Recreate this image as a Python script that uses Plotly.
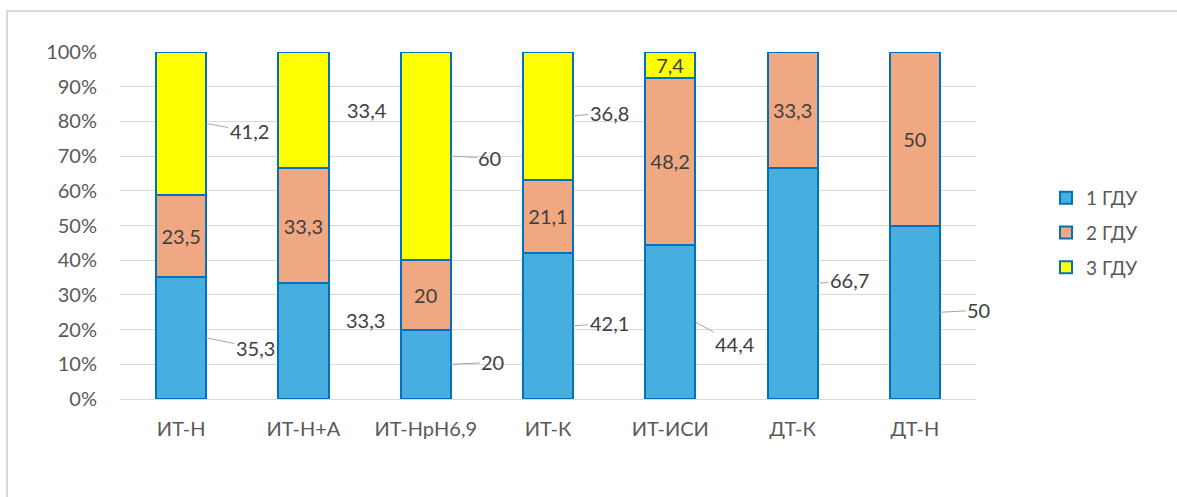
import plotly.graph_objects as go

categories = ["ИТ-Н", "ИТ-Н+А", "ИТ-НрН6,9", "ИТ-К", "ИТ-ИСИ", "ДТ-К", "ДТ-Н"]
series_names = ["1 ГДУ", "2 ГДУ", "3 ГДУ"]
gdu1 = [35.3, 33.3, 20, 42.1, 44.4, 66.7, 50]
gdu2 = [23.5, 33.3, 20, 21.1, 48.2, 33.3, 50]
gdu3 = [41.2, 33.4, 60, 36.8, 7.4, 0, 0]
y_ticks = [0, 10, 20, 30, 40, 50, 60, 70, 80, 90, 100]

# label layout (pixel offsets of outside labels, whether a leader line is drawn)
lab1 = [(49, 10, True), (37, -21, False), (42, -2, True), (36, -3, True),
        (40, 22, True), (32, -3, True), (39, -2, True)]
lab3 = [(43, 8, True), (38, 0, False), (39, 2, True), (36, -3, True),
        None, None, None]

FONT = "Lato"
TXT = "#404040"
AX = "#595959"
BORDER = "#0070C0"
colors = ["#47AFE0", "#F0A882", "#FFFF00"]
BARW = 0.41


def fmt(v):
    return f"{v:g}".replace(".", ",")


fig = go.Figure()
series = [gdu1, gdu2, gdu3]
for k, (name, vals) in enumerate(zip(series_names, series)):
    if k == 1:
        text = [fmt(v) for v in vals]
    elif k == 2:
        text = [fmt(v) if (lab3[i] is None and v > 0) else "" for i, v in enumerate(vals)]
    else:
        text = ["" for _ in vals]
    fig.add_trace(go.Bar(
        x=categories, y=vals, name=name, legendgroup=name,
        marker=dict(color=colors[k], line=dict(color=BORDER, width=2)),
        text=text, textposition="inside", insidetextanchor="middle",
        textangle=0, constraintext="none",
        insidetextfont=dict(family=FONT, size=20, color=TXT),
        hoverinfo="skip",
    ))

annotations = []
for i, v in enumerate(gdu1):
    dx, dy, arrow = lab1[i]
    annotations.append(dict(
        x=i + BARW / 2, y=v / 2, xref="x", yref="y", text=fmt(v),
        showarrow=True, arrowhead=0, arrowwidth=1,
        arrowcolor="#A6A6A6" if arrow else "rgba(0,0,0,0)",
        ax=dx, ay=dy, standoff=0,
        font=dict(family=FONT, size=20, color=TXT)))
for i, v in enumerate(gdu3):
    if lab3[i] is None or v <= 0:
        continue
    dx, dy, arrow = lab3[i]
    base = gdu1[i] + gdu2[i]
    annotations.append(dict(
        x=i + BARW / 2, y=base + v / 2, xref="x", yref="y", text=fmt(v),
        showarrow=True, arrowhead=0, arrowwidth=1,
        arrowcolor="#A6A6A6" if arrow else "rgba(0,0,0,0)",
        ax=dx, ay=dy, standoff=0,
        font=dict(family=FONT, size=20, color=TXT)))

L, R, T, B = 120, 201, 52, 98
W, H = 1177, 497
pw, ph = W - L - R, H - T - B

fig.update_layout(
    width=W, height=H,
    margin=dict(l=L, r=R, t=T, b=B, autoexpand=False),
    paper_bgcolor="white", plot_bgcolor="white",
    barmode="stack", bargap=1 - BARW,
    separators=", ",
    font=dict(family=FONT, size=20, color=AX),
    uniformtext=dict(minsize=20, mode="show"),
    showlegend=True,
    legend=dict(
        x=(1046 - L) / pw, xanchor="left",
        y=(H - B - 233) / ph, yanchor="middle",
        font=dict(family=FONT, size=19, color=AX),
        tracegroupgap=7, itemwidth=30,
        bgcolor="rgba(0,0,0,0)",
    ),
    xaxis=dict(
        range=[-0.5, len(categories) - 0.5],
        showgrid=False, zeroline=False, showline=False, ticks="",
        ticklabelstandoff=16, tickfont=dict(family=FONT, size=20, color=AX),
        fixedrange=True,
    ),
    yaxis=dict(
        range=[0, 100], tickvals=y_ticks, ticktext=[f"{t}%" for t in y_ticks],
        showgrid=True, gridcolor="#D9D9D9", gridwidth=1.3,
        zeroline=True, zerolinecolor="#D9D9D9", zerolinewidth=1.3,
        showline=False, ticks="", ticklabelstandoff=22,
        tickfont=dict(family=FONT, size=20, color=AX),
        fixedrange=True,
    ),
    annotations=annotations,
    shapes=[dict(
        type="rect", xref="paper", yref="paper",
        x0=(7 - L) / pw, x1=(1200 - L) / pw,
        y0=(H - B - 520) / ph, y1=(H - B - 11) / ph,
        line=dict(color="#D9D9D9", width=2), fillcolor="rgba(0,0,0,0)",
        layer="below",
    )],
)

fig.write_html("out.html", config={"displayModeBar": False})
